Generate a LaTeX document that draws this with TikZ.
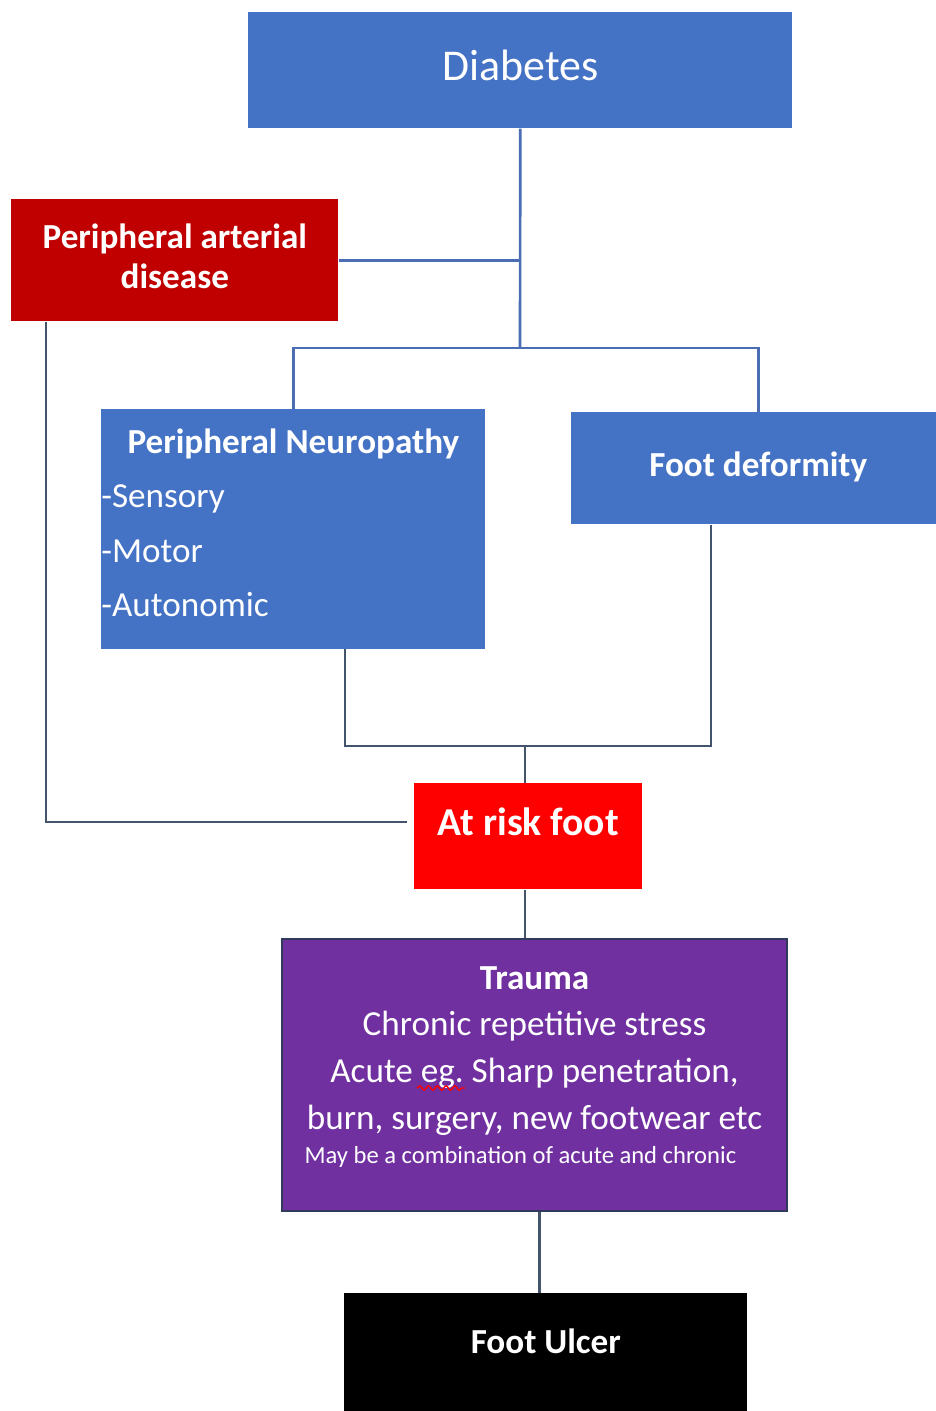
\documentclass[tikz,border=0pt]{standalone}
\usepackage{fontspec}
\setmainfont{Carlito}
\frenchspacing
\usetikzlibrary{decorations.pathmorphing}
\definecolor{boxblue}{HTML}{4472C4}
\definecolor{linkblue}{HTML}{4A6DB3}
\definecolor{padred}{HTML}{C00000}
\definecolor{riskred}{HTML}{FF0000}
\definecolor{traumapurple}{HTML}{7030A0}
\definecolor{traumaedge}{HTML}{2F3B58}
\definecolor{linegray}{HTML}{44546A}
\begin{document}
\begin{tikzpicture}[x=0.02cm, y=-0.02cm,
    box/.style={anchor=north west, inner xsep=0pt, inner ysep=0pt, text=white},
    blueline/.style={draw=linkblue, line width=1.5pt},
    grayline/.style={draw=linegray, line width=1.3pt}]
    \useasboundingbox (0,0) rectangle (936,1411);
    \path (248,12) node (diab) [box, fill=boxblue, minimum width=10.88cm, text height=1.36cm, text depth=0.96cm, font=\fontsize{25}{30}\selectfont] {Diabetes}
    (11,199) node (pad) [box, fill=padred, minimum width=6.54cm, align=center, font=\bfseries\fontsize{20}{22.7}\selectfont] {\rule{0pt}{0.98cm}Peripheral arterial\\disease\rule[-0.66cm]{0pt}{0.66cm}}
    (101,409) node (neuro) [box, fill=boxblue, text width=7.68cm, align=flush left, font=\fontsize{20}{31}\selectfont] {\makebox[\hsize]{\rule{0pt}{0.88cm}\textbf{Peripheral Neuropathy}}\\-Sensory\\-Motor\\-Autonomic\rule[-0.64cm]{0pt}{0.64cm}}
    (571,412) node (deform) [box, fill=boxblue, minimum width=7.48cm, text height=1.28cm, text depth=0.96cm, font=\bfseries\fontsize{20}{24}\selectfont] {Foot deformity}
    (414,783) node (risk) [box, fill=riskred, minimum width=4.56cm, text height=1.04cm, text depth=1.08cm, font=\bfseries\fontsize{22.5}{27}\selectfont] {At risk foot}
    (281,938) node (trauma) [box, fill=traumapurple, draw=traumaedge, line width=1.2pt, minimum width=10.1cm, align=center, font=\fontsize{20}{26.6}\selectfont] {\rule{0pt}{1cm}\textbf{Trauma}\\Chronic repetitive stress\\Acute eg. Sharp penetration,\\burn, surgery, new footwear etc\\[-7.3pt]\makebox[9.2cm][l]{\fontsize{14}{16}\selectfont May be a combination of acute and chronic}\rule[-0.96cm]{0pt}{0.96cm}}
    (344,1293) node (ulcer) [box, fill=black, minimum width=8.06cm, text height=1.2cm, text depth=1.6cm, font=\bfseries\fontsize{20}{24}\selectfont] {Foot Ulcer};
    \coordinate (hub) at (520,348);
    \coordinate (merge) at (525,746);
    \draw [blueline] (diab.south) -- (hub);
    \draw [blueline] (pad.east) -- (pad.east -| hub);
    \draw [blueline] (neuro.north) |- (hub) -| (deform.north);
    \draw [grayline] ([xshift=0.7cm]pad.south west) |- ([yshift=0.28cm, xshift=-0.14cm]risk.west);
    \draw [grayline] ([xshift=4.88cm]neuro.south west) |- (merge) -| ([xshift=2.8cm]deform.south west);
    \draw [grayline] (merge) -- (merge |- risk.north);
    \draw [grayline] (merge |- risk.south) -- (merge |- trauma.north);
    \draw [grayline] ([xshift=0.1cm]trauma.south) -- ([xshift=0.1cm]trauma.south |- ulcer.north);
    \draw [red, line width=0.8pt, decorate, decoration={snake, amplitude=1.2pt, segment length=5pt}] (417,1088) -- (465,1088);
\end{tikzpicture}
\end{document}
